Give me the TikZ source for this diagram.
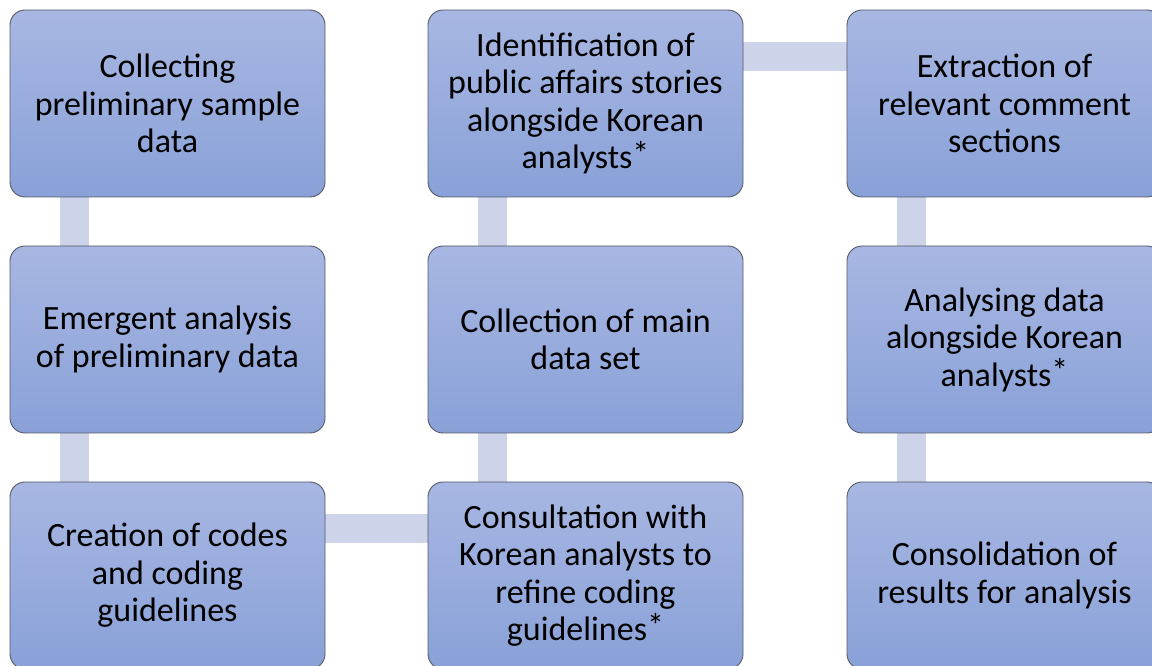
\documentclass[tikz,border=0pt]{standalone}
\usepackage{fontspec}
\setmainfont{Carlito}
\usepackage{xcolor}
\usepackage{tikz}
\usetikzlibrary{backgrounds}
\definecolor{boxtop}{RGB}{168,183,226}
\definecolor{boxbot}{RGB}{137,161,216}
\definecolor{boxline}{RGB}{85,90,105}
\definecolor{barfill}{RGB}{205,212,234}
\newcommand{\starmark}{\raisebox{0.1em}{*}}

\begin{document}
\begin{tikzpicture}[x=1pt,y=1pt,
            stage/.style={rectangle, rounded corners=15pt, draw=boxline, line width=0.9pt,
                top color=boxtop, bottom color=boxbot, minimum width=315pt, minimum height=187pt,
                inner sep=0pt, align=center, font=\fontsize{34}{37.5}\selectfont},
            bar/.style={draw=barfill, line width=29pt}]
            \useasboundingbox (0,0) rectangle (1152,666);

            \node[stage] at (167.5,562.5) (A) {Collecting\\preliminary sample\\data};
            \node[stage] at (167.5,326.5) (B) {Emergent analysis\\of preliminary data};
            \node[stage] at (167.5,90.5) (C) {Creation of codes\\and coding\\guidelines};
            \node[stage] at (585.5,562.5) (D) {Identification of\\public affairs stories\\alongside Korean\\analysts\starmark};
            \node[stage] at (585.5,326.5) (E) {Collection of main\\data set};
            \node[stage] at (585.5,90.5) (F) {Consultation with\\Korean analysts to\\refine coding\\guidelines\starmark};
            \node[stage] at (1004.5,562.5) (G) {Extraction of\\relevant comment\\sections};
            \node[stage] at (1004.5,326.5) (H) {Analysing data\\alongside Korean\\analysts\starmark};
            \node[stage] at (1004.5,90.5) (I) {Consolidation of\\results for analysis};

            \begin{pgfonlayer}{background}
            \draw[bar] ([xshift=64.5pt]A.south west) -- ([xshift=64.5pt]B.north west);
            \draw[bar] ([xshift=64.5pt]B.south west) -- ([xshift=64.5pt]C.north west);
            \draw[bar] ([yshift=-46.5pt]C.north east) -- ([yshift=-46.5pt]F.north west);
            \draw[bar] ([xshift=64.5pt]F.north west) -- ([xshift=64.5pt]E.south west);
            \draw[bar] ([xshift=64.5pt]E.north west) -- ([xshift=64.5pt]D.south west);
            \draw[bar] ([yshift=-46.5pt]D.north east) -- ([yshift=-46.5pt]G.north west);
            \draw[bar] ([xshift=64.5pt]G.south west) -- ([xshift=64.5pt]H.north west);
            \draw[bar] ([xshift=64.5pt]H.south west) -- ([xshift=64.5pt]I.north west);
            \end{pgfonlayer}
        \end{tikzpicture}
\end{document}
